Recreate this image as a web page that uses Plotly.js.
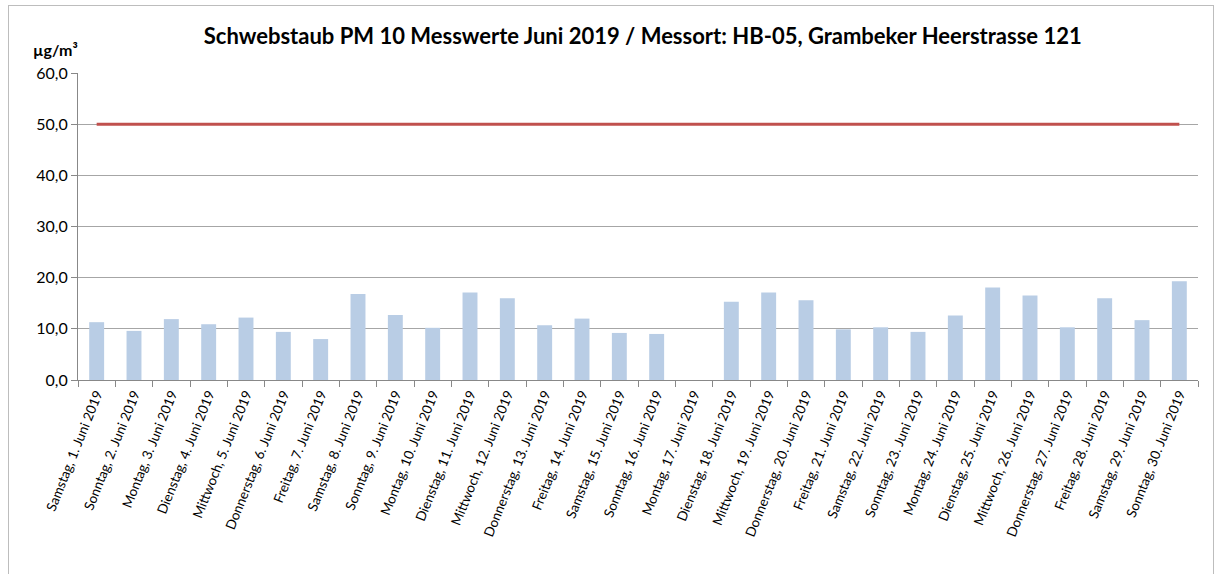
<!DOCTYPE html>
<html><head><meta charset="utf-8">
<script src="https://cdn.plot.ly/plotly-3.0.1.min.js"></script>
<style>
html,body{margin:0;padding:0;background:#fff;}
#chart{width:1215px;height:574px;position:relative;}
#frame{position:absolute;left:8px;top:5px;width:1204px;height:600px;border:1px solid #bdbdbd;pointer-events:none;}
</style></head>
<body>
<div id="chart"></div>
<div id="frame"></div>
<script>
const categories = [
"Samstag, 1. Juni 2019","Sonntag, 2. Juni 2019","Montag, 3. Juni 2019","Dienstag, 4. Juni 2019",
"Mittwoch, 5. Juni 2019","Donnerstag, 6. Juni 2019","Freitag, 7. Juni 2019","Samstag, 8. Juni 2019",
"Sonntag, 9. Juni 2019","Montag, 10. Juni 2019","Dienstag, 11. Juni 2019","Mittwoch, 12. Juni 2019",
"Donnerstag, 13. Juni 2019","Freitag, 14. Juni 2019","Samstag, 15. Juni 2019","Sonntag, 16. Juni 2019",
"Montag, 17. Juni 2019","Dienstag, 18. Juni 2019","Mittwoch, 19. Juni 2019","Donnerstag, 20. Juni 2019",
"Freitag, 21. Juni 2019","Samstag, 22. Juni 2019","Sonntag, 23. Juni 2019","Montag, 24. Juni 2019",
"Dienstag, 25. Juni 2019","Mittwoch, 26. Juni 2019","Donnerstag, 27. Juni 2019","Freitag, 28. Juni 2019",
"Samstag, 29. Juni 2019","Sonntag, 30. Juni 2019"];
const pm10 = [11.3,9.6,11.9,10.9,12.2,9.4,8.0,16.8,12.7,10.2,
              17.1,16.0,10.7,12.0,9.2,9.0,null,15.3,17.1,15.6,
              9.9,10.3,9.4,12.6,18.1,16.5,10.3,16.0,11.7,19.3];
const limitValue = 50;
const limit = categories.map(() => limitValue);
const yTicks = [0,10,20,30,40,50,60];

const font = "Lato, 'Open Sans', sans-serif";
const traces = [
  {type:'bar', x:categories, y:pm10, marker:{color:'#b9cde5'}, hoverinfo:'x+y'},
  {type:'scatter', mode:'lines', x:categories, y:limit, line:{color:'#c0504d', width:3}, hoverinfo:'y'}
];
const layout = {
  width:1215, height:574,
  margin:{l:78, r:17, t:73, b:194},
  paper_bgcolor:'#fff', plot_bgcolor:'#fff',
  separators:',.',
  showlegend:false,
  bargap:0.6,
  font:{family:font, color:'#000'},
  title:{text:'<b>Schwebstaub PM 10 Messwerte Juni 2019 / Messort: HB-05, Grambeker Heerstrasse 121</b>',
         font:{size:22, family:font, color:'#000'}, x:0.529, xanchor:'center', y:0.937, yanchor:'middle'},
  xaxis:{type:'category', tickangle:-68, tickfont:{size:13.5, family:font, color:'#000'},
         ticks:'outside', tickson:'boundaries', ticklen:6, tickcolor:'#888',
         showline:true, linecolor:'#888', linewidth:1, showgrid:false, automargin:false},
  yaxis:{range:[0,60], tickvals:yTicks, tickformat:'.1f', tickfont:{size:16, family:font, color:'#000'},
         ticks:'outside', ticklen:6, tickcolor:'#888', showline:true, linecolor:'#888', linewidth:1,
         gridcolor:'#a6a6a6', gridwidth:1, zeroline:false, automargin:false},
  annotations:[{text:'<b>µg/m³</b>', xref:'paper', yref:'paper', x:0.002, y:1.075, xanchor:'right', yanchor:'middle',
                showarrow:false, font:{size:16, family:font, color:'#000'}}]
};
Plotly.newPlot('chart', traces, layout, {displayModeBar:false, staticPlot:true});
</script>
</body></html>
